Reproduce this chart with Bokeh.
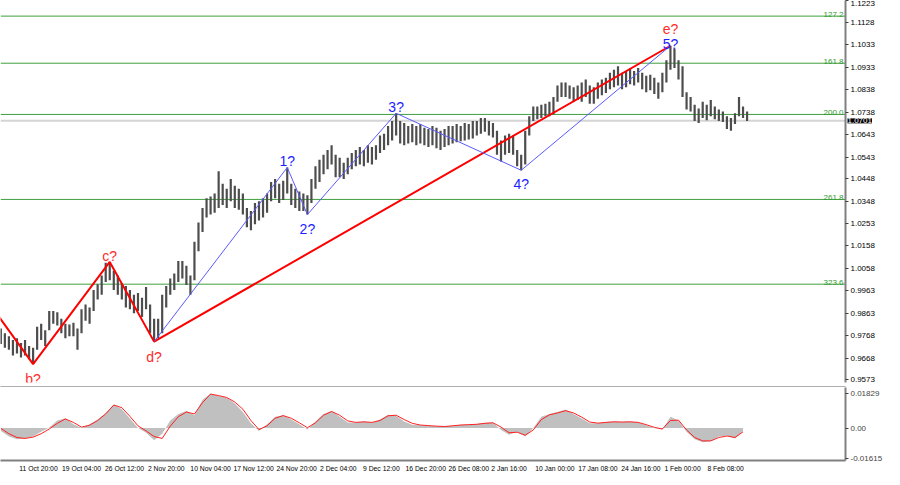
from bokeh.plotting import figure
from bokeh.layouts import column
from bokeh.models import (Range1d, LinearAxis, FixedTicker, Span, Label,
                          ColumnDataSource, PrintfTickFormatter)
from bokeh.core.properties import value
from bokeh.embed import file_html
from bokeh.resources import INLINE

# ---------------- data ----------------
# H4 bar index 0 = "11 Oct 20:00"; one date label every 32 H4 bars
date_labels = ["11 Oct 20:00", "19 Oct 04:00", "26 Oct 12:00", "2 Nov 20:00",
               "10 Nov 04:00", "17 Nov 12:00", "24 Nov 20:00", "2 Dec 04:00",
               "9 Dec 12:00", "16 Dec 20:00", "26 Dec 08:00", "2 Jan 16:00",
               "10 Jan 00:00", "17 Jan 08:00", "24 Jan 16:00", "1 Feb 00:00",
               "8 Feb 08:00"]
date_ticks = [32 * i for i in range(len(date_labels))]

price_ticks = [1.1223, 1.1128, 1.1033, 1.0933, 1.0838, 1.0738, 1.0643, 1.0543,
               1.0448, 1.0348, 1.0253, 1.0158, 1.0058, 0.9963, 0.9863, 0.9768,
               0.9668, 0.9573]

# price bars (one bar drawn per 3 H4 bars, starting at index -12)
bar_high = [
    0.9797, 0.9776, 0.9763, 0.9747, 0.9755, 0.9734, 0.9747, 0.9721, 0.9713, 0.9805,
    0.9818, 0.9789, 0.9873, 0.9873, 0.9868, 0.9839, 0.9818, 0.9814, 0.9822, 0.9797,
    0.9881, 0.9902, 0.9889, 0.9965, 0.9990, 1.0028, 1.0083, 1.0087, 1.0049, 1.0028,
    0.9994, 0.9982, 0.9965, 0.9944, 0.9952, 0.9931, 0.9978, 0.9902, 0.9839, 0.9839,
    0.9944, 0.9982, 1.0015, 1.0036, 1.0091, 1.0091, 1.0070, 1.0028, 1.0175, 1.0259,
    1.0322, 1.0364, 1.0372, 1.0385, 1.0482, 1.0427, 1.0406, 1.0448, 1.0419, 1.0406,
    1.0385, 1.0322, 1.0309, 1.0343, 1.0351, 1.0364, 1.0385, 1.0435, 1.0448, 1.0427,
    1.0440, 1.0498, 1.0427, 1.0406, 1.0393, 1.0385, 1.0377, 1.0448, 1.0503, 1.0532,
    1.0553, 1.0574, 1.0595, 1.0553, 1.0540, 1.0519, 1.0540, 1.0561, 1.0574, 1.0587,
    1.0574, 1.0595, 1.0587, 1.0595, 1.0637, 1.0645, 1.0679, 1.0700, 1.0734, 1.0700,
    1.0692, 1.0679, 1.0687, 1.0679, 1.0687, 1.0671, 1.0666, 1.0679, 1.0671, 1.0658,
    1.0666, 1.0679, 1.0679, 1.0687, 1.0679, 1.0692, 1.0687, 1.0700, 1.0700, 1.0713,
    1.0713, 1.0700, 1.0692, 1.0658, 1.0616, 1.0637, 1.0645, 1.0637, 1.0574, 1.0553,
    1.0658, 1.0721, 1.0763, 1.0763, 1.0771, 1.0776, 1.0784, 1.0805, 1.0855, 1.0868,
    1.0868, 1.0855, 1.0847, 1.0855, 1.0868, 1.0881, 1.0855, 1.0847, 1.0868, 1.0881,
    1.0889, 1.0910, 1.0923, 1.0939, 1.0910, 1.0918, 1.0931, 1.0918, 1.0931, 1.0910,
    1.0897, 1.0902, 1.0889, 1.0868, 1.0910, 1.0965, 1.1028, 1.1015, 1.0965, 1.0939,
    1.0826, 1.0805, 1.0771, 1.0755, 1.0784, 1.0771, 1.0792, 1.0763, 1.0750, 1.0742,
    1.0721, 1.0713, 1.0734, 1.0805, 1.0763, 1.0742]
bar_low = [
    0.9730, 0.9713, 0.9705, 0.9679, 0.9688, 0.9671, 0.9679, 0.9663, 0.9642, 0.9705,
    0.9747, 0.9721, 0.9789, 0.9818, 0.9810, 0.9776, 0.9755, 0.9763, 0.9763, 0.9705,
    0.9776, 0.9831, 0.9818, 0.9873, 0.9923, 0.9944, 0.9999, 1.0007, 0.9965, 0.9944,
    0.9923, 0.9889, 0.9881, 0.9864, 0.9873, 0.9847, 0.9881, 0.9776, 0.9740, 0.9755,
    0.9776, 0.9889, 0.9944, 0.9965, 0.9999, 1.0015, 0.9986, 0.9944, 1.0007, 1.0133,
    1.0217, 1.0280, 1.0293, 1.0301, 1.0322, 1.0335, 1.0322, 1.0351, 1.0322, 1.0314,
    1.0293, 1.0238, 1.0225, 1.0251, 1.0267, 1.0280, 1.0301, 1.0351, 1.0364, 1.0343,
    1.0356, 1.0385, 1.0335, 1.0322, 1.0309, 1.0309, 1.0293, 1.0343, 1.0406, 1.0435,
    1.0469, 1.0490, 1.0511, 1.0456, 1.0456, 1.0448, 1.0469, 1.0490, 1.0503, 1.0511,
    1.0503, 1.0519, 1.0511, 1.0532, 1.0561, 1.0574, 1.0595, 1.0616, 1.0637, 1.0603,
    1.0595, 1.0603, 1.0608, 1.0595, 1.0603, 1.0595, 1.0587, 1.0595, 1.0582, 1.0574,
    1.0587, 1.0595, 1.0603, 1.0608, 1.0612, 1.0616, 1.0620, 1.0624, 1.0637, 1.0645,
    1.0654, 1.0637, 1.0629, 1.0553, 1.0524, 1.0553, 1.0561, 1.0553, 1.0503, 1.0486,
    1.0511, 1.0637, 1.0700, 1.0708, 1.0713, 1.0721, 1.0721, 1.0729, 1.0784, 1.0805,
    1.0805, 1.0797, 1.0784, 1.0792, 1.0784, 1.0805, 1.0776, 1.0776, 1.0797, 1.0813,
    1.0822, 1.0839, 1.0847, 1.0855, 1.0839, 1.0847, 1.0860, 1.0855, 1.0868, 1.0839,
    1.0826, 1.0834, 1.0818, 1.0797, 1.0826, 1.0868, 1.0923, 1.0931, 1.0881, 1.0805,
    1.0750, 1.0742, 1.0700, 1.0692, 1.0713, 1.0704, 1.0721, 1.0708, 1.0700, 1.0696,
    1.0666, 1.0658, 1.0687, 1.0721, 1.0713, 1.0700]
bar_x = [-12 + 3 * i for i in range(len(bar_high))]
last_price = 1.0701

# wave counts
red_wave_x = [-14, 12, 69, 102, 486]
red_wave_y = [0.9853, 0.9642, 1.0087, 0.9740, 1.1028]
red_names = ["", "b?", "c?", "d?", "e?"]
blue_wave_x = [102, 201, 216, 282, 375, 486]
blue_wave_y = [0.9740, 1.0498, 1.0293, 1.0734, 1.0486, 1.1028]
blue_names = ["", "1?", "2?", "3?", "4?", "5?"]

# Fibonacci extension levels
fib_names = ["127.2", "161.8", "200.0", "261.8", "323.6"]
fib_levels = [1.1157, 1.0952, 1.0729, 1.0359, 0.9990]

# oscillator (one value per 6 H4 bars, starting at index -12)
osc_hist = [
    -0.0015, -0.0045, -0.0060, -0.0055, -0.0045, -0.0020, 0.0003, 0.0040, 0.0052, 0.0020,
    0.0000, 0.0020, 0.0045, 0.0080, 0.0125, 0.0100, 0.0050, 0.0000, -0.0025, -0.0065,
    -0.0030, 0.0040, 0.0075, 0.0090, 0.0068, 0.0150, 0.0183, 0.0170, 0.0160, 0.0130,
    0.0085, 0.0025, -0.0015, 0.0020, 0.0060, 0.0068, 0.0045, 0.0020, -0.0008, 0.0035,
    0.0075, 0.0090, 0.0060, 0.0030, 0.0030, 0.0035, 0.0028, 0.0045, 0.0070, 0.0065,
    0.0035, 0.0018, 0.0015, 0.0012, 0.0010, 0.0010, 0.0012, 0.0018, 0.0018, 0.0022,
    0.0028, 0.0028, -0.0010, -0.0035, -0.0020, -0.0045, 0.0000, 0.0060, 0.0075, 0.0085,
    0.0098, 0.0075, 0.0050, 0.0025, 0.0025, 0.0032, 0.0035, 0.0032, 0.0035, 0.0030,
    0.0015, 0.0000, -0.0008, 0.0060, 0.0040, -0.0020, -0.0060, -0.0075, -0.0070, -0.0045,
    -0.0040, -0.0055, -0.0015]
osc_signal = [
    -0.0002, -0.0030, -0.0050, -0.0055, -0.0048, -0.0030, -0.0005, 0.0025, 0.0048, 0.0030,
    0.0005, 0.0015, 0.0040, 0.0075, 0.0122, 0.0108, 0.0062, 0.0012, -0.0015, -0.0045,
    -0.0055, 0.0010, 0.0060, 0.0085, 0.0075, 0.0135, 0.0180, 0.0172, 0.0162, 0.0138,
    0.0100, 0.0040, -0.0008, 0.0012, 0.0052, 0.0066, 0.0052, 0.0028, 0.0002, 0.0028,
    0.0068, 0.0088, 0.0068, 0.0038, 0.0030, 0.0033, 0.0030, 0.0040, 0.0065, 0.0068,
    0.0045, 0.0025, 0.0016, 0.0013, 0.0010, 0.0008, 0.0012, 0.0016, 0.0018, 0.0020,
    0.0025, 0.0028, 0.0005, -0.0025, -0.0022, -0.0038, -0.0010, 0.0045, 0.0070, 0.0080,
    0.0092, 0.0080, 0.0058, 0.0032, 0.0026, 0.0030, 0.0033, 0.0032, 0.0033, 0.0030,
    0.0018, 0.0004, -0.0005, 0.0040, 0.0042, -0.0010, -0.0050, -0.0068, -0.0068, -0.0050,
    -0.0042, -0.0050, -0.0020]
osc_x = [-12 + 6 * i for i in range(len(osc_hist))]
osc_ticks = [0.01829, 0.0, -0.01615]
osc_tick_labels = ["0.01829", "0.00", "-0.01615"]

# ---------------- styling ----------------
FONT = "Liberation Sans"
AXIS_GREY = "#808080"
FRAME_W = 845
x_range = Range1d(-12.25, 616.2)
PX_PER_BAR = FRAME_W / (x_range.end - x_range.start)

main = figure(frame_width=FRAME_W, frame_height=382, x_range=x_range,
              y_range=Range1d(0.9562, 1.1225), output_backend="svg",
              toolbar_location=None, x_axis_location=None, y_axis_location="right",
              min_border_left=0, min_border_top=0, min_border_bottom=0,
              min_border_right=0, outline_line_color=None,
              background_fill_color="white", border_fill_color="white")
main.xgrid.visible = False
main.ygrid.visible = False

ya = main.yaxis[0]
ya.ticker = FixedTicker(ticks=price_ticks)
ya.formatter = PrintfTickFormatter(format="%.4f")
ya.major_label_text_font = FONT
ya.major_label_text_font_size = "8px"
ya.major_label_text_color = "black"
ya.axis_line_color = AXIS_GREY
ya.axis_line_width = 2
ya.major_tick_out = 3
ya.major_tick_in = 0
ya.major_tick_line_color = "#404040"
ya.minor_tick_out = 0
ya.minor_tick_in = 0
ya.major_label_standoff = 2

# current price tag (placed in a side panel so it is not clipped to the frame)
tag = Label(x=x_range.end, y=last_price, x_offset=2, text="1.0701",
            text_baseline="middle", text_font=FONT, text_font_size="8px",
            text_color="white", background_fill_color="black",
            background_fill_alpha=1.0)
main.add_layout(tag, "below")

# separator line between the price panel and the oscillator
sep = LinearAxis(ticker=FixedTicker(ticks=[]), major_label_text_font_size="0px",
                 major_tick_out=0, major_tick_in=0, minor_tick_out=0, minor_tick_in=0,
                 major_label_standoff=0, axis_line_color="#606060", axis_line_width=2)
main.add_layout(sep, "below")

# bid line
main.add_layout(Span(location=last_price, dimension="width", line_color="#d4d4d4",
                     line_width=2, level="underlay"))
# fib levels
for lvl in fib_levels:
    main.add_layout(Span(location=lvl, dimension="width", line_color="#3f9f3f",
                         line_width=1, level="underlay"))
fib_src = ColumnDataSource(dict(x=[x_range.end] * len(fib_levels), y=fib_levels,
                                t=fib_names))
main.text(x="x", y="y", text="t", source=fib_src, text_align="right",
          text_baseline="bottom", x_offset=-2, y_offset=1,
          text_font=value(FONT), text_font_size="8px", text_color="#2f9a2f")

# price bars
main.segment(x0=bar_x, y0=bar_low, x1=bar_x, y1=bar_high,
             line_color="#4d4d4d", line_width=2.2)

# wave lines
main.line(red_wave_x, red_wave_y, line_color="#ff0000", line_width=2)
main.line(blue_wave_x, blue_wave_y, line_color="#5a5aff", line_width=1)

RED_T = "#ff2b2b"
BLUE_T = "#1e1eff"


def add_lbl(idx_list, xs, ys, names, color, above, yoff):
    src = ColumnDataSource(dict(x=[xs[i] for i in idx_list], y=[ys[i] for i in idx_list],
                                t=[names[i] for i in idx_list]))
    main.text(x="x", y="y", text="t", source=src, text_align="center",
              text_baseline="alphabetic" if above else "top", y_offset=yoff,
              text_font=value(FONT), text_font_size="14px", text_color=color)


add_lbl([1, 3], red_wave_x, red_wave_y, red_names, RED_T, False, 7)
add_lbl([2], red_wave_x, red_wave_y, red_names, RED_T, True, -6)
add_lbl([4], red_wave_x, red_wave_y, red_names, RED_T, True, -17)
add_lbl([2, 4], blue_wave_x, blue_wave_y, blue_names, BLUE_T, False, 6)
add_lbl([1, 3], blue_wave_x, blue_wave_y, blue_names, BLUE_T, True, -6)
add_lbl([5], blue_wave_x, blue_wave_y, blue_names, BLUE_T, True, -2)

# ---------------- oscillator ----------------
osc = figure(frame_width=FRAME_W, frame_height=73, x_range=x_range,
             y_range=Range1d(-0.0172, 0.0215), output_backend="svg",
             toolbar_location=None, y_axis_location="right",
             min_border_left=0, min_border_top=0, min_border_bottom=0,
             min_border_right=0, outline_line_color=None,
             background_fill_color="white", border_fill_color="white")
osc.xgrid.visible = False
osc.ygrid.visible = False
osc.varea(x=osc_x, y1=[0.0] * len(osc_hist), y2=osc_hist, fill_color="#c0c0c0")
osc.line(osc_x, osc_signal, line_color="#ff2020", line_width=1)

oy = osc.yaxis[0]
oy.ticker = FixedTicker(ticks=osc_ticks)
oy.major_label_overrides = {t: s for t, s in zip(osc_ticks, osc_tick_labels)}
oy.major_label_text_font = FONT
oy.major_label_text_font_size = "8px"
oy.axis_line_color = AXIS_GREY
oy.axis_line_width = 2
oy.major_tick_out = 3
oy.major_tick_in = 0
oy.major_tick_line_color = "#404040"
oy.minor_tick_out = 0
oy.minor_tick_in = 0
oy.major_label_standoff = 2

# date axis: labels start at their date position (left aligned like the terminal)
DATE_FS = 6.8
CW = {" ": 0.278, ":": 0.278, "O": 0.778, "c": 0.5, "t": 0.278, "N": 0.722,
      "o": 0.556, "v": 0.5, "D": 0.722, "e": 0.556, "J": 0.5, "a": 0.556,
      "n": 0.556, "F": 0.611, "b": 0.556}


def text_w(s):
    return sum(CW.get(ch, 0.556) for ch in s) * DATE_FS


lab_pos = [int(round(t + (text_w(s) / 2 + 1.5) / PX_PER_BAR))
           for t, s in zip(date_ticks, date_labels)]
ox = osc.xaxis[0]
ox.ticker = FixedTicker(ticks=lab_pos)
ox.major_label_overrides = {p_: s for p_, s in zip(lab_pos, date_labels)}
ox.major_label_text_font = FONT
ox.major_label_text_font_size = f"{DATE_FS}px"
ox.major_label_text_color = "black"
ox.major_label_standoff = 4
ox.axis_line_color = AXIS_GREY
ox.axis_line_width = 2
ox.major_tick_out = 0
ox.major_tick_in = 0
ox.minor_tick_out = 0
ox.minor_tick_in = 0

layout = column(main, osc, spacing=0)
open("out.html", "w").write(file_html(layout, INLINE))
